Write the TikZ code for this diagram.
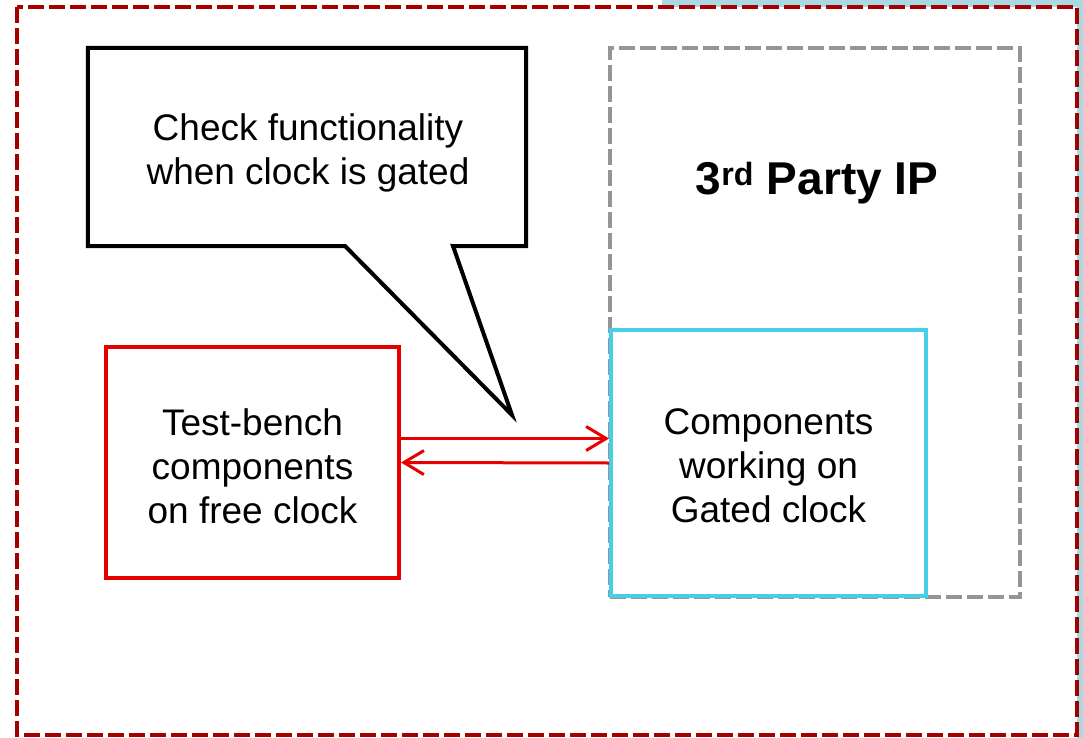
\documentclass[tikz,border=0pt]{standalone}
\usepackage{fontspec}
\setmainfont{Liberation Sans}
\usetikzlibrary{arrows.meta}
\definecolor{frameRed}{HTML}{A50000}
\definecolor{boxRed}{HTML}{E60000}
\definecolor{boxCyan}{HTML}{47CFE8}
\definecolor{ipGray}{HTML}{959595}
\definecolor{paleBlue}{HTML}{A9D9E1}
\tikzset{
  body/.style={font=\fontsize{37}{44}\selectfont, align=center},
  blockbox/.style={draw, line width=4pt, inner sep=0pt},
  dashframe/.style={line width=4.5pt, dash pattern=on 16pt off 5pt},
  link/.style={draw=boxRed, line width=3pt, -{Straight Barb[length=20pt,width=24pt,line width=3pt]}}
}
\begin{document}
\begin{tikzpicture}[x=1pt,y=-1pt]
  \useasboundingbox (0,0) rectangle (1083,738);
  % backdrop
  \fill[paleBlue] (662,0) rectangle (1083,738);
  \fill[white] (17,7) rectangle (1077,738);
  % outer dashed frame
  \draw[frameRed, dashframe] (17,7) rectangle (1077,735);

  % third-party IP region
  \node[draw=ipGray, dashframe, line width=4pt, minimum width=410pt, minimum height=549pt, inner sep=0pt]
    (ip) at (815,322.5) {};
  \node[font=\bfseries\fontsize{46}{52}\selectfont] (iplabel) at (817,183)
    {3\textsuperscript{rd} Party IP};

  % blocks
  \node[blockbox, draw=boxRed, minimum width=293pt, minimum height=231pt]
    (tb) at (252.5,462.5) {};
  \node[body] (tbtext) at (252.5,466) {Test-bench\\components\\on free clock};
  \node[blockbox, draw=boxCyan, minimum width=315pt, minimum height=266pt]
    (comp) at (768.5,463) {};
  \node[body] (comptext) at (768.5,466) {Components\\working on\\Gated clock};

  % connections
  \draw[link] ([yshift=24pt]tb.east) -- ([yshift=24pt]tb.east -| comp.west);
  \draw[link] (comp.west) -- (tb.east);

  % speech callout
  \node[minimum width=438pt, minimum height=198pt, inner sep=0pt]
    (note) at (307,147) {};
  \coordinate (tailR) at (453,246);
  \coordinate (tip) at (512,415);
  \coordinate (tailL) at (345,246);
  \draw[line width=4pt, line join=miter]
    (note.north west) -- (note.north east) -- (note.south east) -- (tailR)
    -- (tip) -- (tailL) -- (note.south west) -- cycle;
  \node[body] (notetext) at (308,153) {Check functionality\\when clock is gated};
\end{tikzpicture}
\end{document}
